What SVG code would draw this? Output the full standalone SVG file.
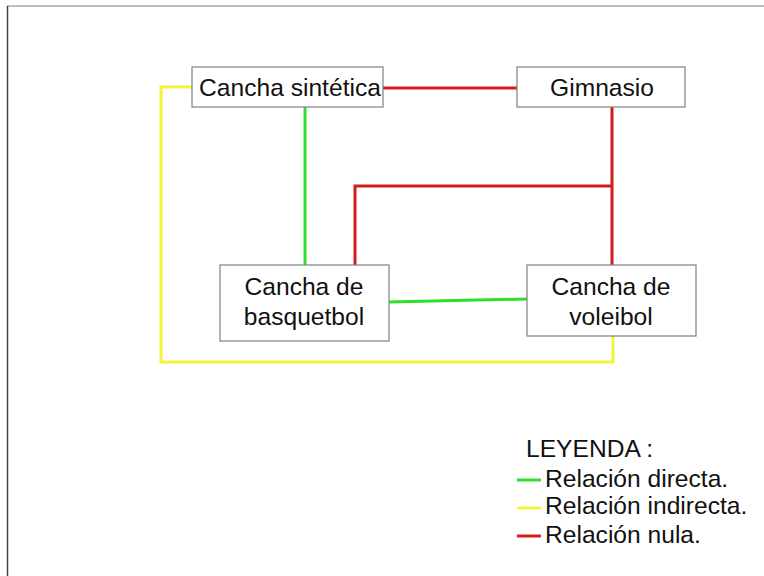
<svg xmlns="http://www.w3.org/2000/svg" width="764" height="576" viewBox="0 0 764 576">
<style>
.node rect{fill:#fff;stroke:#808080;stroke-width:1.2}
text{font-family:"Liberation Sans",Arial,sans-serif;font-size:24.6px;fill:#111}
.c{text-anchor:middle}
.g{stroke:#2ee02e;stroke-width:3;fill:none}
.y{stroke:#f4f23c;stroke-width:3;fill:none}
.r{stroke:#d01c1c;stroke-width:3;fill:none}
</style>
<rect x="0" y="0" width="764" height="576" fill="#fff"/>
<line x1="7" y1="6" x2="764" y2="6" stroke="#a8a8a8" stroke-width="1.5"/>
<line x1="7.5" y1="6" x2="7.5" y2="576" stroke="#444" stroke-width="1.5"/>
<g id="connectors">
<polyline class="y" points="192,87 161,87 161,362 613,362 613,336"/>
<line class="g" x1="305" y1="107" x2="305" y2="265"/>
<line class="g" x1="389" y1="302" x2="527" y2="299"/>
<line class="r" x1="383" y1="88" x2="517" y2="88"/>
<line class="r" x1="612" y1="107" x2="612" y2="265"/>
<polyline class="r" points="612,186 355,186 355,265"/>
</g>
<g id="n-sintetica" class="node">
<rect x="192" y="67" width="191" height="40"/>
<text class="c" x="290" y="96">Cancha sintética</text>
</g>
<g id="n-gimnasio" class="node">
<rect x="517" y="67" width="168" height="40"/>
<text class="c" x="602" y="96">Gimnasio</text>
</g>
<g id="n-basquetbol" class="node">
<rect x="220" y="265" width="169" height="76"/>
<text class="c" x="304" y="295">Cancha de</text>
<text class="c" x="304" y="325">basquetbol</text>
</g>
<g id="n-voleibol" class="node">
<rect x="527" y="265" width="169" height="71"/>
<text class="c" x="611" y="295">Cancha de</text>
<text class="c" x="611" y="325">voleibol</text>
</g>
<g id="legend">
<text x="526" y="457">LEYENDA :</text>
<line class="g" x1="517" y1="480" x2="541" y2="480"/>
<text x="545" y="487">Relación directa.</text>
<line class="y" x1="517" y1="508" x2="541" y2="508"/>
<text x="545" y="514">Relación indirecta.</text>
<line class="r" x1="517" y1="536" x2="541" y2="536"/>
<text x="545" y="543">Relación nula.</text>
</g>
</svg>
